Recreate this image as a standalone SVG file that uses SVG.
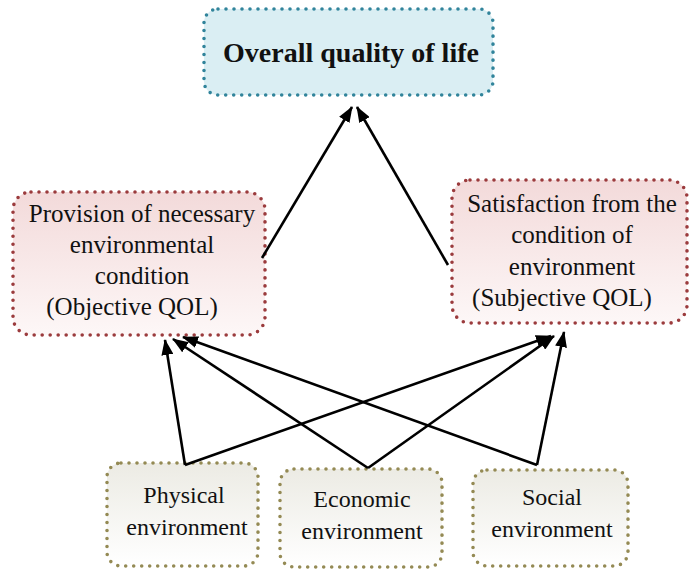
<svg xmlns="http://www.w3.org/2000/svg" width="699" height="569" viewBox="0 0 699 569">
  <defs>
    <linearGradient id="gPink" x1="0" y1="0" x2="0" y2="1">
      <stop offset="0" stop-color="#f3dada"/>
      <stop offset="1" stop-color="#fdf7f7"/>
    </linearGradient>
    <linearGradient id="gSand" x1="0" y1="0" x2="0" y2="1">
      <stop offset="0" stop-color="#ecebe4"/>
      <stop offset="1" stop-color="#ffffff"/>
    </linearGradient>
    <marker id="arrow" viewBox="0 0 16 12" refX="15" refY="6" markerWidth="16" markerHeight="12" markerUnits="userSpaceOnUse" orient="auto">
      <path d="M0,0 L16,6 L0,12 Z" fill="#000"/>
    </marker>
    <style>
      .box { stroke-width: 3.6; stroke-dasharray: 0 8; stroke-linecap: round; }
      .top { fill: #daeef3; stroke: #31849b; }
      .mid { fill: url(#gPink); stroke: #9b3b3d; }
      .bot { fill: url(#gSand); stroke: #948a54; }
      text { font-family: "Liberation Serif", "Times New Roman", serif; fill: #111; text-anchor: middle; }
      .title { font-size: 28px; font-weight: bold; }
      .lbl { font-size: 25px; }
      .sm { font-size: 24px; }
      .link { fill: none; stroke: #000; stroke-width: 2.6; marker-end: url(#arrow); }
    </style>
  </defs>

  <g id="node-overall">
    <rect class="box top" x="204" y="9" width="289" height="86" rx="14"/>
    <text class="title" x="351" y="62">Overall quality of life</text>
  </g>

  <g id="node-objective">
    <rect class="box mid" x="13" y="192" width="252" height="143" rx="18"/>
    <text class="lbl" x="142" y="222">Provision of necessary</text>
    <text class="lbl" x="142" y="253">environmental</text>
    <text class="lbl" x="142" y="284">condition</text>
    <text class="lbl" x="132" y="315">(Objective QOL)</text>
  </g>

  <g id="node-subjective">
    <rect class="box mid" x="452" y="180" width="235" height="143" rx="18"/>
    <text class="lbl" x="572" y="212">Satisfaction from the</text>
    <text class="lbl" x="572" y="243">condition of</text>
    <text class="lbl" x="572" y="275">environment</text>
    <text class="lbl" x="562" y="306">(Subjective QOL)</text>
  </g>

  <g id="node-physical">
    <rect class="box bot" x="107" y="463" width="151" height="103" rx="14"/>
    <text class="sm" x="184" y="503">Physical</text>
    <text class="sm" x="187" y="535">environment</text>
  </g>

  <g id="node-economic">
    <rect class="box bot" x="280" y="469" width="162" height="98" rx="14"/>
    <text class="sm" x="362" y="507">Economic</text>
    <text class="sm" x="362" y="539">environment</text>
  </g>

  <g id="node-social">
    <rect class="box bot" x="473" y="470" width="155" height="96" rx="14"/>
    <text class="sm" x="552" y="505">Social</text>
    <text class="sm" x="552" y="537">environment</text>
  </g>

  <g id="connectors">
    <line class="link" x1="262" y1="258" x2="352" y2="107"/>
    <line class="link" x1="448" y1="265" x2="357" y2="107"/>
    <line class="link" x1="185" y1="465" x2="165" y2="340"/>
    <line class="link" x1="185" y1="465" x2="551" y2="336"/>
    <line class="link" x1="368" y1="468" x2="173" y2="339"/>
    <line class="link" x1="368" y1="468" x2="554" y2="336"/>
    <line class="link" x1="537" y1="465" x2="183" y2="337"/>
    <line class="link" x1="537" y1="465" x2="564" y2="332"/>
  </g>
</svg>
